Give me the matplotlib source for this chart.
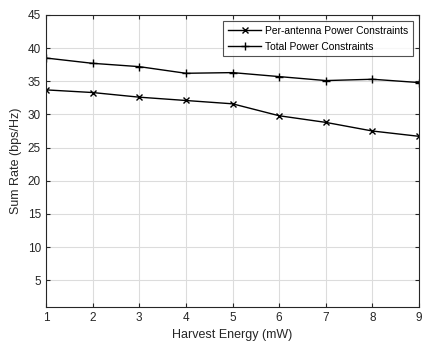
import matplotlib
matplotlib.use("Agg")
import matplotlib.pyplot as plt

x = [1, 2, 3, 4, 5, 6, 7, 8, 9]
per_antenna = [33.7, 33.3, 32.6, 32.1, 31.6, 29.8, 28.8, 27.5, 26.7]
total_power = [38.5, 37.7, 37.2, 36.2, 36.3, 35.7, 35.1, 35.3, 34.8]
yticks = [5, 10, 15, 20, 25, 30, 35, 40, 45]

plt.rcParams['font.family'] = ['Liberation Sans', 'DejaVu Sans']
fig = plt.figure(figsize=(4.33, 3.54), dpi=100)
ax = fig.add_axes([0.106, 0.133, 0.862, 0.825])

ax.plot(x, per_antenna, color='black', lw=1.0, marker='x', ms=5, mew=1.0,
        label='Per-antenna Power Constraints')
ax.plot(x, total_power, color='black', lw=1.0, marker='+', ms=6, mew=1.0,
        label='Total Power Constraints')

ax.set_xlim(1, 9)
ax.set_ylim(1, 45)
ax.set_xticks(x)
ax.set_yticks(yticks)
ax.grid(True, color='#dcdcdc', lw=0.8)
ax.set_axisbelow(True)
for s in ax.spines.values():
    s.set_color('#262626')
    s.set_linewidth(0.8)
ax.tick_params(direction='in', top=True, right=True, labelsize=8.5,
               colors='#262626', length=3)
ax.set_xlabel('Harvest Energy (mW)', fontsize=9, color='#262626')
ax.set_ylabel('Sum Rate (bps/Hz)', fontsize=9, color='#262626')

leg = ax.legend(loc='upper right', fontsize=7.4, frameon=True, fancybox=False,
                edgecolor='#262626', borderpad=0.45, handlelength=3.2,
                handletextpad=0.4, labelspacing=0.6, borderaxespad=0.6)
leg.get_frame().set_linewidth(0.8)

fig.savefig('out.png', dpi=100)
